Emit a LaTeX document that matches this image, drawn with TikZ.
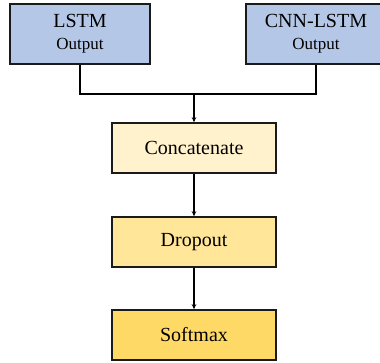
\documentclass[tikz,border=0pt]{standalone}
\usepackage{fontspec}
\setmainfont{Liberation Serif}
\usetikzlibrary{arrows.meta}
\definecolor{topblue}{HTML}{B4C7E7}
\definecolor{y1}{HTML}{FFF2CC}
\definecolor{y2}{HTML}{FFE699}
\definecolor{y3}{HTML}{FFD966}
\definecolor{edge}{HTML}{1A1A1A}
\tikzset{
  topbox/.style={draw=edge, line width=1.6pt, fill=topblue, minimum width=140pt, minimum height=60pt, inner sep=0pt, align=center, font=\fontsize{20}{22}\selectfont},
  midbox/.style={draw=edge, line width=1.6pt, minimum width=164pt, minimum height=50pt, inner sep=0pt, font=\fontsize{20}{22}\selectfont},
  conn/.style={draw=black, line width=1.4pt},
  arr/.style={conn, -{Stealth[length=5pt,width=4.5pt]}}
}
\newcommand{\subtxt}[1]{{\fontsize{17}{22}\selectfont #1}}
\begin{document}
\begin{tikzpicture}[x=1pt,y=-1pt]
\useasboundingbox (0,0) rectangle (380,362);
\node[topbox] (lstm) at (80,34) {LSTM\\\subtxt{Output}};
\node[topbox] (cnn) at (316,34) {CNN-LSTM\\\subtxt{Output}};
\node[midbox, fill=y1] (concat) at (194,148) {Concatenate};
\node[midbox, fill=y2] (drop) at (194,242) {Dropout};
\node[midbox, fill=y3] (soft) at (194,335) {Softmax};
\coordinate (j) at (194,94);
\draw[conn] (lstm.south) |- (j) -| (cnn.south);
\draw[arr, line width=2pt] (j) -- (concat.north);
\draw[arr] (concat.south) -- (drop.north);
\draw[arr] (drop.south) -- (soft.north);
\end{tikzpicture}
\end{document}
